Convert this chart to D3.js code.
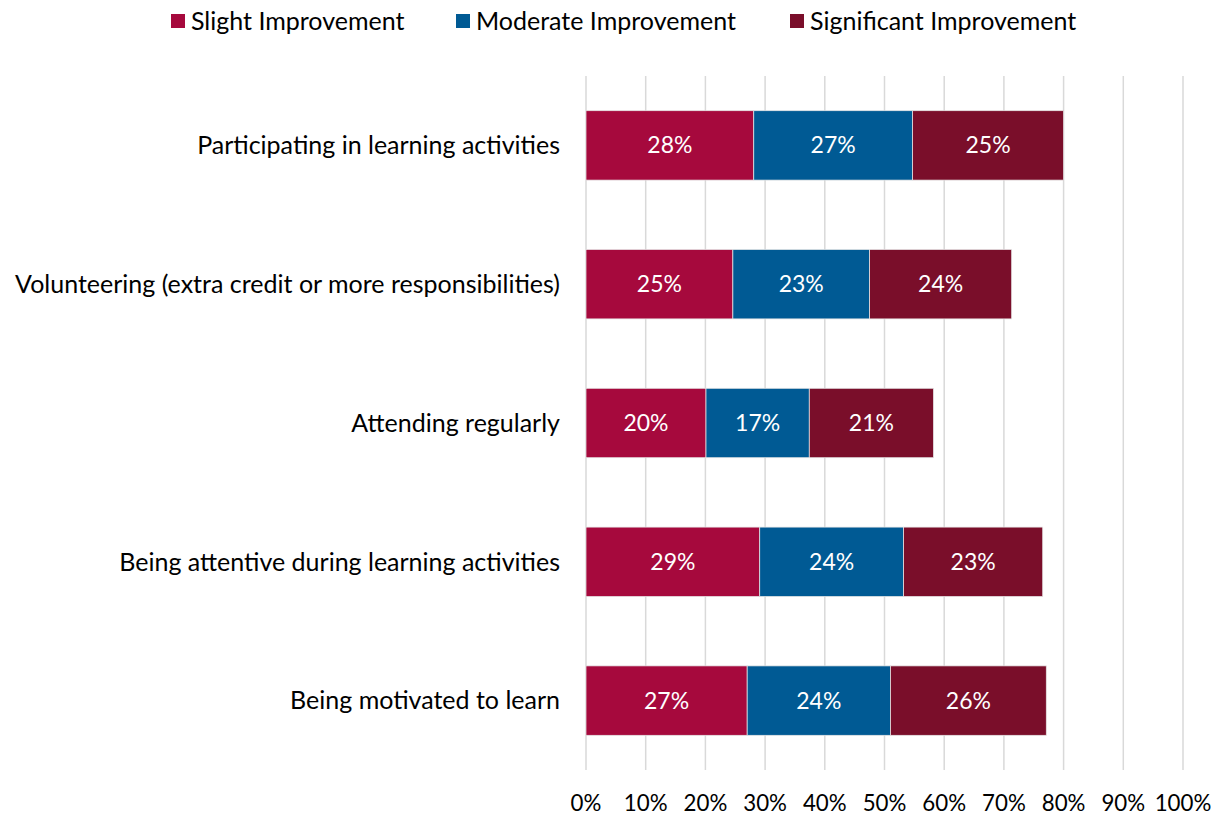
<!DOCTYPE html>
<html>
<head>
<meta charset="utf-8">
<script src="https://cdn.jsdelivr.net/npm/d3@7"></script>
<style>
  html, body { margin: 0; padding: 0; background: #fff; }
  svg { display: block; }
  text { font-family: Lato, "Open Sans", sans-serif; }
</style>
</head>
<body>
<svg id="chart" width="1220" height="815"></svg>
<script>
const categories = [
  "Participating in learning activities",
  "Volunteering (extra credit or more responsibilities)",
  "Attending regularly",
  "Being attentive during learning activities",
  "Being motivated to learn"
];
const seriesNames = ["Slight Improvement", "Moderate Improvement", "Significant Improvement"];
const slight      = [28.1, 24.6, 20.1, 29.1, 27.0];
const moderate    = [26.6, 22.9, 17.3, 24.1, 24.0];
const significant = [25.3, 23.8, 20.8, 23.3, 26.1];
const xTicks = [0, 10, 20, 30, 40, 50, 60, 70, 80, 90, 100];
const colors = ["#A6093D", "#005A94", "#7A0E2A"];

const svg = d3.select("#chart");
const margin = { left: 586, right: 37, top: 76, bottom: 45 };
const W = 1220, H = 815;

const x = d3.scaleLinear().domain([0, 100]).range([margin.left, W - margin.right]);
const y = d3.scaleBand().domain(categories).range([margin.top, H - margin.bottom]).paddingInner(0.5).paddingOuter(0.25);

// gridlines
svg.append("g").selectAll("line").data(xTicks).join("line")
  .attr("x1", d => x(d)).attr("x2", d => x(d))
  .attr("y1", margin.top).attr("y2", H - margin.bottom)
  .attr("stroke", "#d9d9d9").attr("stroke-width", 1.5);

// x tick labels
svg.append("g").selectAll("text").data(xTicks).join("text")
  .attr("x", d => x(d)).attr("y", 811)
  .attr("text-anchor", "middle")
  .attr("font-size", 22.3).attr("fill", "#000")
  .text(d => d + "%");

// stacked data
const rows = categories.map((c, i) => ({ cat: c, vals: [slight[i], moderate[i], significant[i]] }));
const segs = [];
rows.forEach(r => {
  let acc = 0;
  r.vals.forEach((v, j) => { segs.push({ cat: r.cat, s: j, x0: acc, x1: acc + v, v }); acc += v; });
});

svg.append("g").selectAll("rect").data(segs).join("rect")
  .attr("x", d => x(d.x0)).attr("width", d => x(d.x1) - x(d.x0))
  .attr("y", d => y(d.cat)).attr("height", y.bandwidth())
  .attr("fill", d => colors[d.s])
  .attr("stroke", "#e6e6e6").attr("stroke-width", 0.75);

svg.append("g").selectAll("text").data(segs).join("text")
  .attr("x", d => (x(d.x0) + x(d.x1)) / 2)
  .attr("y", d => y(d.cat) + y.bandwidth() / 2)
  .attr("dy", "0.35em")
  .attr("text-anchor", "middle")
  .attr("font-size", 23).attr("fill", "#fff")
  .text(d => Math.round(d.v) + "%");

// category labels
svg.append("g").selectAll("text").data(categories).join("text")
  .attr("x", 560).attr("y", d => y(d) + y.bandwidth() / 2)
  .attr("dy", "0.35em").attr("text-anchor", "end")
  .attr("font-size", 25).attr("fill", "#000")
  .text(d => d);

// legend
const legendX = [171, 456, 790];
const lg = svg.append("g").selectAll("g").data(seriesNames).join("g")
  .attr("transform", (d, i) => `translate(${legendX[i]},0)`);
lg.append("rect").attr("x", 0).attr("y", 14).attr("width", 14).attr("height", 14)
  .attr("fill", (d, i) => colors[i]);
lg.append("text").attr("x", 20).attr("y", 21).attr("dy", "0.35em")
  .attr("font-size", 25).attr("fill", "#000").text(d => d);
</script>
</body>
</html>
